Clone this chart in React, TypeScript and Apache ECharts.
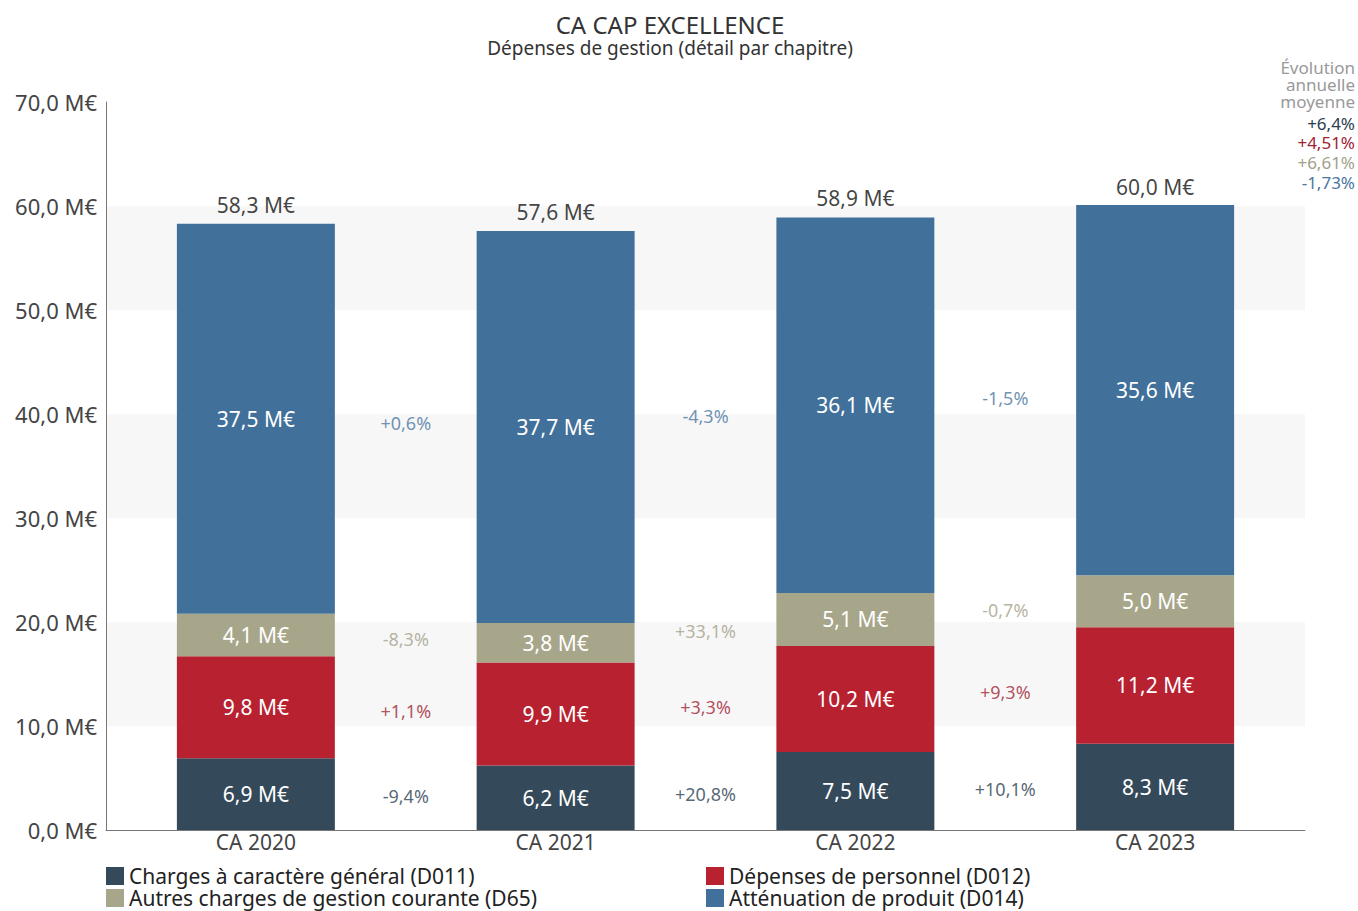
import React, { useEffect, useRef } from "react";
import * as echarts from "echarts";

const categories = ["CA 2020", "CA 2021", "CA 2022", "CA 2023"];
const seriesNames = [
  "Charges à caractère général (D011)",
  "Dépenses de personnel (D012)",
  "Autres charges de gestion courante (D65)",
  "Atténuation de produit (D014)",
];
const d011 = [6.9, 6.2, 7.5, 8.3];
const d012 = [9.8, 9.9, 10.2, 11.2];
const d65 = [4.1, 3.8, 5.1, 5.0];
const d014 = [37.5, 37.7, 36.1, 35.6];
const totals = [58.3, 57.6, 58.9, 60.0];

const growthD011 = [-9.4, 20.8, 10.1];
const growthD012 = [1.1, 3.3, 9.3];
const growthD65 = [-8.3, 33.1, -0.7];
const growthD014 = [0.6, -4.3, -1.5];

const avgEvolution = [6.4, 4.51, 6.61, -1.73];
const avgTitle = ["Évolution", "annuelle", "moyenne"];

const colors = ["#34495a", "#b8212f", "#a8a68a", "#41709a"];
const labelColors = ["#2c3e50", "#a02333", "#a3a18a", "#4a76a0"];
const FONT = "Noto Sans";

const fmtM = (v: number) => v.toFixed(1).replace(".", ",") + " M€";
const fmtPct = (v: number) => (v >= 0 ? "+" : "") + v.toFixed(1).replace(".", ",") + "%";
const fmtAvg = (v: number) => (v >= 0 ? "+" : "") + String(v).replace(".", ",") + "%";

export default function App() {
  const ref = useRef<HTMLDivElement>(null);
  useEffect(() => {
    if (!ref.current) return;
    const chart = echarts.init(ref.current, null, { renderer: "svg" });
    const stacks = [d011, d012, d65, d014];
    const growths = [growthD011, growthD012, growthD65, growthD014];
    const mids = stacks.map((s, k) =>
      s.map((v, i) => {
        let base = 0;
        for (let j = 0; j < k; j++) base += stacks[j][i];
        return base + v / 2;
      })
    );

    const barSeries = stacks.map((s, k) => ({
      name: seriesNames[k],
      type: "bar",
      stack: "total",
      data: s,
      barWidth: "52.7%",
      itemStyle: { color: colors[k] },
      label: {
        show: true,
        position: "inside",
        color: "#ffffff",
        fontSize: 21,
        fontFamily: FONT,
        formatter: (p: any) => fmtM(p.value),
      },
    }));

    const growthSeries = growths.map((g, k) => ({
      name: "growth" + k,
      type: "scatter",
      xAxisIndex: 1,
      yAxisIndex: 0,
      symbolSize: 1,
      itemStyle: { color: "rgba(0,0,0,0)" },
      data: g.map((v, j) => [j + 1, (mids[k][j] + mids[k][j + 1]) / 2]),
      label: {
        show: true,
        position: "inside",
        color: labelColors[k],
        fontSize: 18,
        fontFamily: FONT,
        formatter: (p: any) => fmtPct(g[p.dataIndex]),
      },
      z: 5,
    }));

    const totalSeries = {
      name: "totals",
      type: "scatter",
      symbolSize: 1,
      itemStyle: { color: "rgba(0,0,0,0)" },
      data: totals,
      label: {
        show: true,
        position: "top",
        distance: 8,
        color: "#111",
        fontSize: 21,
        fontFamily: FONT,
        formatter: (p: any) => fmtM(p.value),
      },
    };

    const valueRich: any = {};
    labelColors.forEach((c, i) => {
      valueRich["c" + i] = {
        fill: c,
        fontSize: 17,
        fontFamily: FONT,
        lineHeight: 19.7,
        align: "right",
      };
    });

    const graphics: any[] = [
      {
        type: "text",
        x: 1355,
        y: 58.5,
        z: 100,
        style: {
          text: avgTitle.join("\n"),
          align: "right",
          verticalAlign: "top",
          fill: "#999999",
          fontSize: 17,
          fontFamily: FONT,
          lineHeight: 17,
        },
      },
      {
        type: "text",
        x: 1355,
        y: 113.2,
        z: 100,
        style: {
          text: avgEvolution.map((v, i) => `{c${i}|${fmtAvg(v)}}`).join("\n"),
          align: "right",
          verticalAlign: "top",
          fontSize: 17,
          fontFamily: FONT,
          lineHeight: 19.7,
          rich: valueRich,
        },
      },
    ];

    const legendBase = {
      orient: "vertical",
      top: 865,
      itemWidth: 18,
      itemHeight: 18,
      itemGap: 0,
      icon: "rect",
      textStyle: { fontSize: 21, color: "#222", lineHeight: 22 },
      padding: 0,
      selectedMode: false,
    };

    chart.setOption({
      animation: false,
      backgroundColor: "#ffffff",
      textStyle: { fontFamily: FONT },
      title: {
        text: "CA CAP EXCELLENCE",
        subtext: "Dépenses de gestion (détail par chapitre)",
        left: 665,
        textAlign: "center",
        top: 7,
        itemGap: 2,
        textStyle: { fontSize: 24, fontWeight: "normal", color: "#333", fontFamily: FONT },
        subtextStyle: { fontSize: 19, color: "#333", fontFamily: FONT },
      },
      legend: [
        { ...legendBase, data: [seriesNames[0], seriesNames[2]], left: 106 },
        { ...legendBase, data: [seriesNames[1], seriesNames[3]], left: 706 },
      ],
      grid: { left: 106, right: 53, top: 102, bottom: 81, containLabel: false },
      xAxis: [
        {
          type: "category",
          data: categories,
          axisLine: { show: true, lineStyle: { color: "#777", width: 1 } },
          axisTick: { show: false },
          axisLabel: { fontSize: 21, color: "#444", margin: 1, fontFamily: FONT },
        },
        {
          type: "value",
          min: 0,
          max: 4,
          show: false,
        },
      ],
      yAxis: {
        type: "value",
        min: 0,
        max: 70,
        interval: 10,
        axisLine: { show: true, lineStyle: { color: "#777", width: 1 } },
        axisTick: { show: false },
        splitLine: { show: false },
        splitArea: { show: true, areaStyle: { color: ["#ffffff", "#f7f7f7"] } },
        axisLabel: {
          fontSize: 22,
          color: "#444",
          margin: 9,
          fontFamily: FONT,
          formatter: (v: number) => fmtM(v),
        },
      },
      graphic: graphics,
      series: [...barSeries, ...growthSeries, totalSeries],
    });
    return () => chart.dispose();
  }, []);
  return (
    <div
      ref={ref}
      style={{ position: "absolute", left: 0, top: 0, width: 1358, height: 911 }}
    />
  );
}
